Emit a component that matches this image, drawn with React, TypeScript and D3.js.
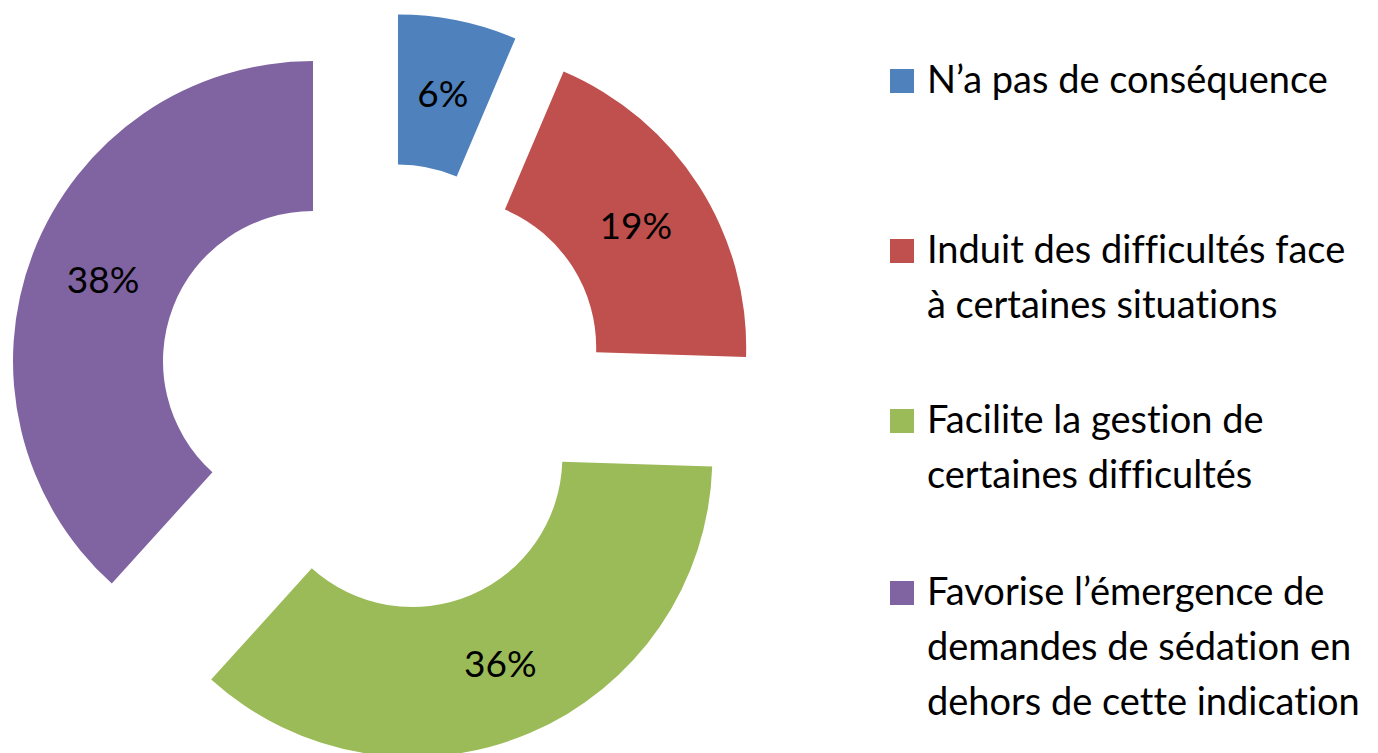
import { useEffect, useRef } from "react";
import * as d3 from "d3";

// chart data
const categories = [
  "N’a pas de conséquence",
  "Induit des difficultés face à certaines situations",
  "Facilite la gestion de certaines difficultés",
  "Favorise l’émergence de demandes de sédation en dehors de cette indication",
];
const values = [6.4, 19.1, 36.2, 38.3];
// legend lines, wrapped like in the original
const legendLines = [
  ["N’a pas de conséquence"],
  ["Induit des difficultés face", "à certaines situations"],
  ["Facilite la gestion de", "certaines difficultés"],
  ["Favorise l’émergence de", "demandes de sédation en", "dehors de cette indication"],
];
const colors = ["#4F81BD", "#C0504D", "#9BBB59", "#8064A2"];

const App = () => {
  const svgRef = useRef<SVGSVGElement>(null);

  useEffect(() => {
    const svg = d3.select(svgRef.current);
    svg.selectAll("*").remove();

    const width = 1378;
    const height = 753;
    const outer = 300;
    const inner = 150;
    const explode = 75;
    const font = "Lato, 'Open Sans', sans-serif";

    svg.attr("width", width).attr("height", height);

    const data = categories.map((name, i) => ({ name, value: values[i], color: colors[i] }));

    const pie = d3
      .pie<any>()
      .sort(null)
      .value((d) => d.value);
    const arcs = pie(data);

    const arc = d3.arc<any>().innerRadius(inner).outerRadius(outer);

    const g = svg.append("g").attr("transform", "translate(383, 388)");

    const slice = g
      .selectAll("g.slice")
      .data(arcs)
      .enter()
      .append("g")
      .attr("class", "slice")
      .attr("transform", (d) => {
        // push each slice out along its middle angle
        const a = (d.startAngle + d.endAngle) / 2;
        return `translate(${explode * Math.sin(a)}, ${-explode * Math.cos(a)})`;
      });

    slice
      .append("path")
      .attr("d", arc)
      .attr("fill", (d) => d.data.color);

    slice
      .append("text")
      .attr("x", (d) => arc.centroid(d)[0])
      .attr("y", (d) => arc.centroid(d)[1])
      .attr("dy", "0.35em")
      .attr("text-anchor", "middle")
      .style("font-family", font)
      .style("font-size", "37px")
      .attr("fill", "#000")
      .text((d) => `${Math.round(d.data.value)}%`);

    // legend
    const rowTops = [93, 263, 433, 605];
    const lineHeight = 55;
    const legend = svg
      .selectAll("g.legend")
      .data(legendLines)
      .enter()
      .append("g")
      .attr("class", "legend")
      .attr("transform", (_d, i) => `translate(890, ${rowTops[i]})`);

    legend
      .append("rect")
      .attr("x", 0)
      .attr("y", -24)
      .attr("width", 24)
      .attr("height", 24)
      .attr("fill", (_d, i) => colors[i]);

    legend
      .selectAll("text")
      .data((d) => d)
      .enter()
      .append("text")
      .attr("x", 37)
      .attr("y", (_d, j) => j * lineHeight)
      .style("font-family", font)
      .style("font-size", "38px")
      .style("font-variant-ligatures", "none")
      .attr("fill", "#000")
      .text((d) => d);
  }, []);

  return (
    <svg
      ref={svgRef}
      style={{ position: "fixed", left: 0, top: 0, background: "#fff" }}
    ></svg>
  );
};

export default App;
